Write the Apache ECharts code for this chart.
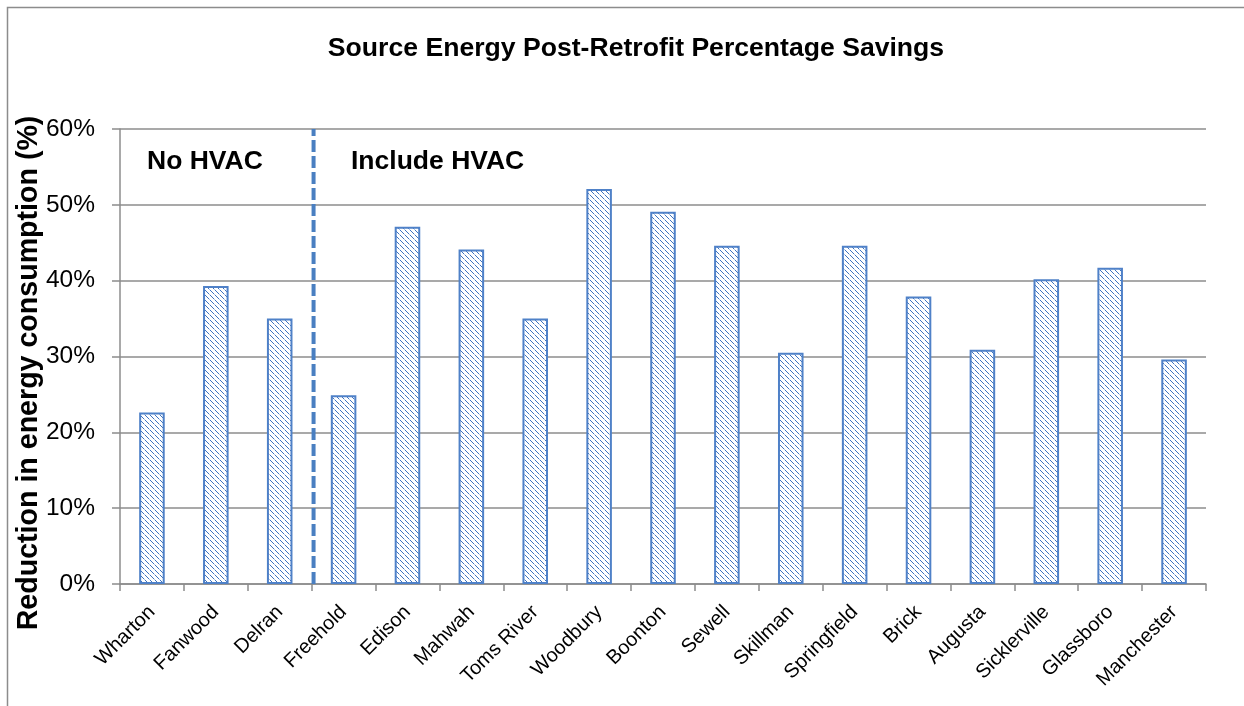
<!DOCTYPE html>
<html>
<head>
<meta charset="utf-8">
<script src="https://cdn.jsdelivr.net/npm/echarts@6/dist/echarts.min.js"></script>
<style>
  html, body { margin: 0; padding: 0; background: #fff; }
  #chart { width: 1244px; height: 706px; }
</style>
</head>
<body>
<div id="chart"></div>
<script>
const sites = ['Wharton', 'Fanwood', 'Delran', 'Freehold', 'Edison', 'Mahwah', 'Toms River', 'Woodbury',
  'Boonton', 'Sewell', 'Skillman', 'Springfield', 'Brick', 'Augusta', 'Sicklerville', 'Glassboro', 'Manchester']
const savings = [22.6, 39.3, 35.0, 24.9, 47.1, 44.1, 35.0, 52.1, 49.1, 44.6, 30.5, 44.6, 37.9, 30.9, 40.2, 41.7, 29.6]
const yTicks = [0, 10, 20, 30, 40, 50, 60]
// divider between the two groups (in category units)
const dividerAt = [3.03, 3.03]
const dividerSpan = [0, 60]

// hatch fill like the excel pattern
const makeHatch = () => {
  const c = document.createElement('canvas')
  c.width = 5
  c.height = 5
  const ctx = c.getContext('2d')
  ctx.fillStyle = '#fff'
  ctx.fillRect(0, 0, 5, 5)
  ctx.fillStyle = '#3f73c0'
  for (let i = 0; i < 4; i++) {
    ctx.fillRect(i, i, 1, 1)
  }
  ctx.fillStyle = '#a9c2e6'
  ctx.fillRect(4, 4, 1, 1)
  return c
}

const chart = echarts.init(document.getElementById('chart'))

const option = {
  animation: false,
  title: {
    text: 'Source Energy Post-Retrofit Percentage Savings',
    left: 631,
    textAlign: 'center',
    top: 30,
    textStyle: { fontFamily: 'Liberation Sans', fontSize: 26.6, fontWeight: 'bold', color: '#000' }
  },
  graphic: [
    {
      type: 'rect',
      shape: { x: 7.5, y: 7.5, width: 1300, height: 800 },
      style: { fill: 'none', stroke: '#8c8c8c', lineWidth: 1.5 },
      silent: true
    },
    {
      type: 'text', left: 147, top: 148,
      style: { text: 'No HVAC', font: 'bold 26.5px "Liberation Sans"', fill: '#000' }
    },
    {
      type: 'text', left: 351, top: 148,
      style: { text: 'Include HVAC', font: 'bold 26.5px "Liberation Sans"', fill: '#000' }
    },
    {
      type: 'text',
      x: 29, y: 373,
      rotation: Math.PI / 2,
      style: {
        text: 'Reduction in energy consumption (%)',
        font: 'bold 28.6px "Liberation Sans"',
        fill: '#000',
        align: 'center',
        verticalAlign: 'middle'
      }
    }
  ],
  grid: { left: 120, right: 38, top: 129, bottom: 122 },
  xAxis: [
    {
      type: 'category',
      data: sites,
      axisLine: { lineStyle: { color: '#8c8c8c', width: 1.5 } },
      axisTick: { show: true, length: 7, lineStyle: { color: '#8c8c8c', width: 1.5 } },
      axisLabel: {
        rotate: 45, interval: 0, margin: 25,
        fontFamily: 'Liberation Sans', fontSize: 20, color: '#000'
      }
    },
    {
      type: 'value', min: 0, max: sites.length, show: false
    }
  ],
  yAxis: {
    type: 'value',
    min: 0, max: 60, interval: 10,
    axisLine: { show: true, lineStyle: { color: '#8c8c8c', width: 1.5 } },
    axisTick: { show: true, length: 8, lineStyle: { color: '#8c8c8c', width: 1.5 } },
    splitLine: { lineStyle: { color: '#8c8c8c', width: 1.5 } },
    axisLabel: {
      margin: 25,
      fontFamily: 'Liberation Sans', fontSize: 24.5, color: '#000',
      formatter: v => yTicks.includes(v) ? v + '%' : ''
    }
  },
  series: [
    {
      type: 'bar',
      data: savings,
      barWidth: '40%',
      itemStyle: {
        color: { image: makeHatch(), repeat: 'repeat' },
        borderColor: '#4f81c8',
        borderWidth: 2
      }
    },
    {
      type: 'line',
      xAxisIndex: 1,
      data: [[dividerAt[0], dividerSpan[0]], [dividerAt[1], dividerSpan[1]]],
      symbol: 'none',
      lineStyle: { color: '#4a7fc1', width: 4, type: [12, 4] },
      z: 5
    }
  ]
}

chart.setOption(option)
</script>
</body>
</html>
